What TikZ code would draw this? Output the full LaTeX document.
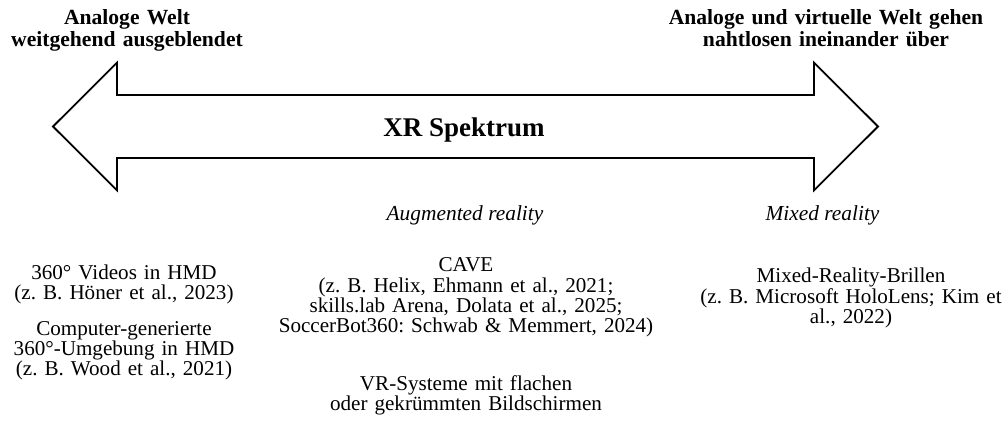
\documentclass[tikz,border=0pt]{standalone}
\usepackage{fontspec}
\setmainfont{Liberation Serif}
\begin{document}
\frenchspacing
\tikzset{
  body/.style={font=\fontsize{21.1}{20.4}\selectfont, inner sep=0pt,
    text width=440pt, align=center, anchor=base},
  head/.style={body, font=\bfseries\fontsize{21.6}{21.7}\selectfont},
  tag/.style={font=\itshape\fontsize{21.4}{20.4}\selectfont, inner sep=0pt, anchor=base},
  title/.style={font=\bfseries\fontsize{27}{30}\selectfont, inner sep=0pt, anchor=base},
  spec/.style={draw=black, line width=1.8pt, line join=miter},
}
\begin{tikzpicture}[x=1pt,y=-1pt]
  \useasboundingbox (0,0) rectangle (1008,446);

  % headings at both ends of the spectrum
  \node[head] (lefthead)  at (127,25) {Analoge Welt\\weitgehend ausgeblendet};
  \node[head] (righthead) at (826,25) {Analoge und virtuelle Welt gehen\\nahtlosen ineinander über};

  % double-headed spectrum arrow
  \draw[spec] (53,126.5) -- (117,62.7) -- (117,95) -- (814,95) -- (814,62.7)
    -- (878,126.5) -- (814,190.3) -- (814,158) -- (117,158) -- (117,190.3) -- cycle;
  \node[title] (spectrum) at (464,136.7) {XR Spektrum};

  % category labels
  \node[tag] (ar) at (465,220.5) {Augmented reality};
  \node[tag] (mr) at (822.5,220.5) {Mixed reality};

  % examples, left column
  \node[body] (hmdvid) at (124,279) {360° Videos in HMD\\(z. B. Höner et al., 2023)};
  \node[body] (hmdcg)  at (124,335) {Computer-generierte\\360°-Umgebung in HMD\\(z. B. Wood et al., 2021)};

  % examples, middle column
  \node[body] (cave) at (466,271.7) {CAVE\\(z. B. Helix, Ehmann et al., 2021;\\skills.lab Arena, Dolata et al., 2025;\\SoccerBot360: Schwab \& Memmert, 2024)};
  \node[body] (screens) at (466,390) {VR-Systeme mit flachen\\oder gekrümmten Bildschirmen};

  % examples, right column
  \node[body] (mrglass) at (851,282.7) {Mixed-Reality-Brillen\\(z. B. Microsoft HoloLens; Kim et\\al., 2022)};
\end{tikzpicture}
\end{document}
